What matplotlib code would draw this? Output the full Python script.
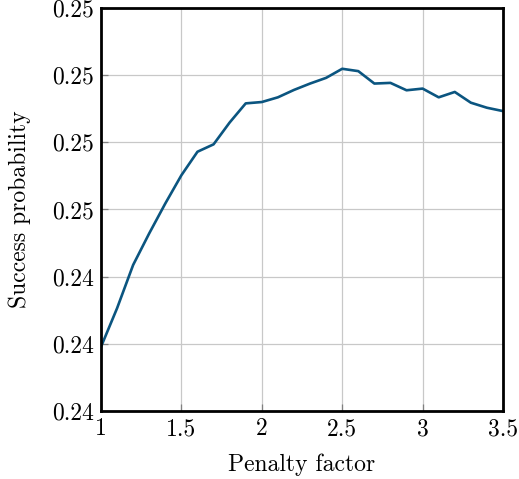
import matplotlib
matplotlib.use("Agg")
import matplotlib.pyplot as plt
from matplotlib.ticker import FormatStrFormatter

plt.rcParams['font.family'] = 'cmr10'
plt.rcParams['axes.formatter.use_mathtext'] = True

# penalty factor vs success probability
penalty = [1.0, 1.1, 1.2, 1.3, 1.4, 1.5, 1.6, 1.7, 1.8, 1.9, 2.0, 2.1, 2.2,
           2.3, 2.4, 2.5, 2.6, 2.7, 2.8, 2.9, 3.0, 3.1, 3.2, 3.3, 3.4, 3.5]
success = [0.24191, 0.24306, 0.24435, 0.24529, 0.24618, 0.24702, 0.24772,
           0.24794, 0.24859, 0.24916, 0.24920, 0.24934, 0.24956, 0.24975,
           0.24992, 0.25019, 0.25012, 0.24975, 0.24977, 0.24955, 0.24960,
           0.24934, 0.24950, 0.24918, 0.24903, 0.24893]

fig = plt.figure(figsize=(5.19, 4.79), dpi=100)
ax = fig.add_axes([0.1946, 0.142, 0.7746, 0.8413])

ax.plot(penalty, success, color='#0b5580', linewidth=1.9)

ax.set_xlim(1, 3.5)
ax.set_ylim(0.240, 0.252)
ax.set_xticks([1, 1.5, 2, 2.5, 3, 3.5])
ax.set_xticklabels(['1', '1.5', '2', '2.5', '3', '3.5'])
ax.set_yticks([0.240, 0.242, 0.244, 0.246, 0.248, 0.250, 0.252])
ax.yaxis.set_major_formatter(FormatStrFormatter('%.2f'))
ax.grid(True, color='#c8c8c8', linewidth=0.9)
ax.tick_params(direction='in', length=5, width=0.9, color='#808080',
               labelsize=17, pad=5)
for s in ax.spines.values():
    s.set_linewidth(2.0)

ax.set_xlabel('Penalty factor', fontsize=17, labelpad=10)
ax.set_ylabel('Success probability', fontsize=17, labelpad=15)

fig.savefig('out.png', dpi=100)
